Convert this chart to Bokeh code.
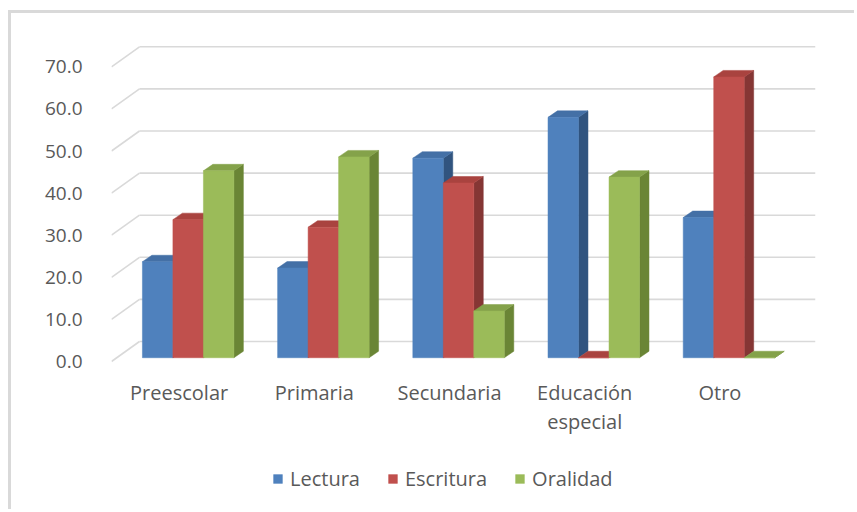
from bokeh.plotting import figure
from bokeh.models import Range1d, FixedTicker, NumeralTickFormatter, Legend, LegendItem
from bokeh.core.properties import value
from bokeh.embed import file_html
from bokeh.resources import INLINE

# ---------------- data ----------------
categories = ["Preescolar", "Primaria", "Secundaria", "Educación\nespecial", "Otro"]
series_names = ["Lectura", "Escritura", "Oralidad"]
lectura = [22.8, 21.3, 47.4, 57.1, 33.3]
escritura = [32.8, 31.0, 41.5, 0.0, 66.7]
oralidad = [44.4, 47.7, 11.1, 42.9, 0.0]
y_ticks = [0, 10, 20, 30, 40, 50, 60, 70]

# ---------------- style ----------------
front_colors = ["#4f81bd", "#c0504d", "#9bbb59"]
top_colors = ["#4470a6", "#a9433f", "#84a24a"]
side_colors = ["#31547f", "#853634", "#6a8535"]
TEXT = "#595959"
GRID = "#d9d9d9"
FONT = "Open Sans"

X_END = 5.207      # front plane spans 0..5, back wall reaches further right
Y_START = -34.2    # room below the floor for category labels and legend
Y_END = 75.3
BACK_DX = 0.207    # depth offset of the back wall (data units)
BACK_DY = 4.75
BAR_W = 0.2256
GROUP_SHIFT = 0.067
BAR_DX = 0.070
BAR_DY = 1.54
BASE = 0.9
LABEL_Y = -4.2

p = figure(width=846, height=499, output_backend="svg", toolbar_location=None,
           x_range=Range1d(0, X_END), y_range=Range1d(Y_START, Y_END),
           x_axis_location=None,
           min_border_left=100, min_border_top=31, min_border_right=42, min_border_bottom=7)
p.styles = {"margin-left": "8px", "margin-top": "10px",
            "border-left": "3px solid #d9d9d9", "border-top": "3px solid #d9d9d9"}
p.outline_line_color = None
p.xgrid.visible = False
p.ygrid.visible = False
p.background_fill_color = "white"
p.border_fill_color = "white"

# back wall gridlines and left wall diagonals
p.segment(x0=[BACK_DX] * len(y_ticks), y0=[t + BACK_DY for t in y_ticks],
          x1=[X_END] * len(y_ticks), y1=[t + BACK_DY for t in y_ticks],
          line_color=GRID, line_width=1.6)
p.segment(x0=[0] * len(y_ticks), y0=y_ticks,
          x1=[BACK_DX] * len(y_ticks), y1=[t + BACK_DY for t in y_ticks],
          line_color=GRID, line_width=1.6)

# bars (pseudo 3D)
legend_items = []
for s, (name, vals) in enumerate(zip(series_names, [lectura, escritura, oralidad])):
    xl = [i + 0.5 + GROUP_SHIFT + (s - 1.5) * BAR_W for i in range(len(categories))]
    xr = [x + BAR_W for x in xl]
    tops = [BASE + v for v in vals]
    side_xs = [[r, r + BAR_DX, r + BAR_DX, r] for r in xr]
    side_ys = [[BASE, BASE + BAR_DY, t + BAR_DY, t] for t in tops]
    top_xs = [[l, r, r + BAR_DX, l + BAR_DX] for l, r in zip(xl, xr)]
    top_ys = [[t, t, t + BAR_DY, t + BAR_DY] for t in tops]
    p.patches(side_xs, side_ys, fill_color=side_colors[s], line_color=side_colors[s], line_width=0.5)
    p.patches(top_xs, top_ys, fill_color=top_colors[s], line_color=top_colors[s], line_width=0.5)
    r = p.quad(left=xl, right=xr, bottom=[BASE] * len(vals), top=tops,
               fill_color=front_colors[s], line_color=front_colors[s], line_width=0.5)
    legend_items.append(LegendItem(label=name, renderers=[r]))

# category labels
p.text(x=[i + 0.5 for i in range(len(categories))], y=[LABEL_Y] * len(categories),
       text=categories, text_align="center", text_baseline="top",
       text_font=value(FONT), text_font_size="20px", text_color=TEXT,
       text_line_height=1.08)

# y axis
p.yaxis.ticker = FixedTicker(ticks=y_ticks)
p.yaxis.formatter = NumeralTickFormatter(format="0.0")
p.yaxis.axis_line_color = None
p.yaxis.major_tick_line_color = None
p.yaxis.minor_tick_line_color = None
p.yaxis.major_label_standoff = 23
p.yaxis.major_label_text_font = FONT
p.yaxis.major_label_text_font_size = "19px"
p.yaxis.major_label_text_color = TEXT

legend = Legend(items=legend_items, location=(161, 13), orientation="horizontal",
                glyph_width=11, glyph_height=11, label_standoff=7, spacing=27,
                padding=0, margin=0, border_line_color=None, background_fill_alpha=0,
                label_text_font=FONT, label_text_font_size="20px", label_text_color=TEXT)
p.add_layout(legend)

open("out.html", "w").write(file_html(p, INLINE))
